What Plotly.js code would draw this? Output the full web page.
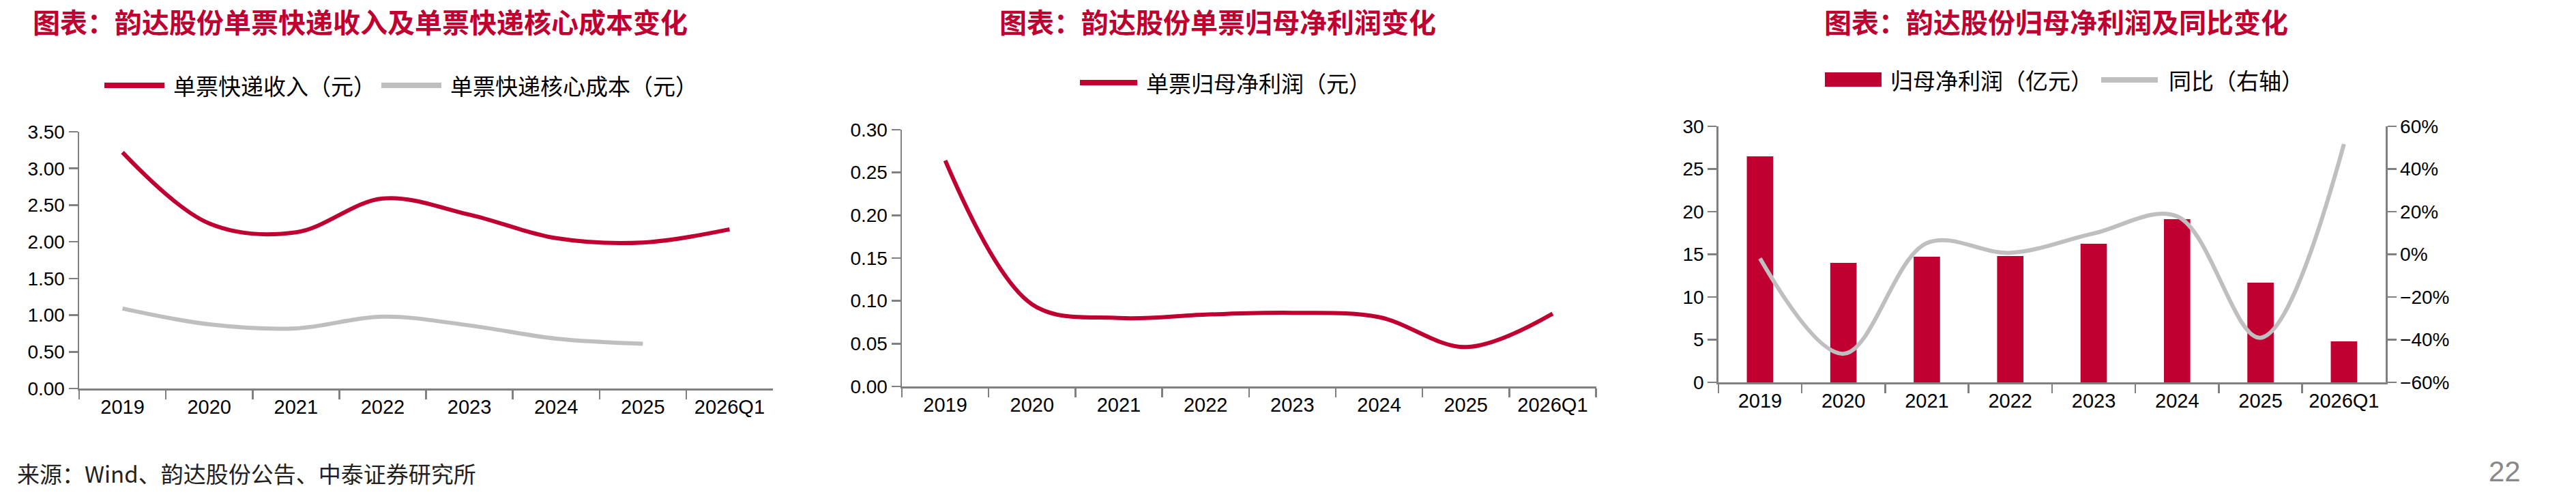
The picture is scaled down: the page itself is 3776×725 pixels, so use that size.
<!DOCTYPE html>
<html>
<head>
<meta charset="utf-8">
<script src="https://cdn.plot.ly/plotly-3.0.1.min.js"></script>
<style>html,body{margin:0;padding:0;background:#fff;}#chart{width:3776px;height:725px;}</style>
</head>
<body>
<div id="chart"></div>
<script>
// ---- data ----
const categories = ['2019', '2020', '2021', '2022', '2023', '2024', '2025', '2026Q1'];
const revenuePerParcel = [3.22, 2.25, 2.13, 2.59, 2.37, 2.05, 1.99, 2.17];
const coreCostPerParcel = [1.09, 0.875, 0.82, 0.98, 0.86, 0.68, 0.61, null];
const netProfitPerParcel = [0.264, 0.096, 0.080, 0.084, 0.086, 0.081, 0.046, 0.085];
const netProfit = [26.48, 14.0, 14.72, 14.8, 16.24, 19.12, 11.68, 4.8];
const netProfitYoY = [-0.019, -0.466, 0.053, 0.007, 0.098, 0.178, -0.391, 0.517];
const seriesNames = ['单票快递收入（元）', '单票快递核心成本（元）', '单票归母净利润（元）', '归母净利润（亿元）', '同比（右轴）'];
const chartTitles = ['图表：韵达股份单票快递收入及单票快递核心成本变化', '图表：韵达股份单票归母净利润变化', '图表：韵达股份归母净利润及同比变化'];
const sourceText = '来源：Wind、韵达股份公告、中泰证券研究所';
const pageNumber = '22';

// ---- style ----
const W = 3776, H = 725;
const RED = '#BF0031', GRAY = '#BFBFBF', AX = '#808080';
const CJK = '"Noto Sans CJK SC", "Noto Sans", sans-serif';
const NUM = '"Liberation Sans", Arial, sans-serif';
const X = p => p / W;
const Y = p => 1 - p / H;

function xax(x0, x1, anchor) {
  return {
    type: 'category', domain: [X(x0), X(x1)], range: [-0.5, 7.5], anchor: anchor,
    showline: true, linecolor: AX, linewidth: 2.5, ticks: 'outside', ticklen: 13, tickwidth: 2.5,
    tickcolor: AX, tickson: 'boundaries', showgrid: false, zeroline: false, fixedrange: true,
    tickfont: {family: NUM, size: 29, color: '#000'}
  };
}
function yax(yBottom, yTop, range, dtick, fmt, anchor, extra) {
  return Object.assign({
    domain: [Y(yBottom), Y(yTop)], range: range, dtick: dtick, tickformat: fmt, anchor: anchor,
    showline: true, linecolor: AX, linewidth: 2.5, ticks: 'outside', ticklen: 13, tickwidth: 2.5,
    tickcolor: AX, showgrid: false, zeroline: false, fixedrange: true,
    tickfont: {family: NUM, size: 28, color: '#000'}
  }, extra || {});
}

const traces = [
  {x: categories, y: revenuePerParcel, name: seriesNames[0], type: 'scatter', mode: 'lines',
   line: {color: RED, width: 6, shape: 'spline', smoothing: 1}, xaxis: 'x', yaxis: 'y'},
  {x: categories, y: coreCostPerParcel, name: seriesNames[1], type: 'scatter', mode: 'lines',
   line: {color: GRAY, width: 6, shape: 'spline', smoothing: 1}, xaxis: 'x', yaxis: 'y'},
  {x: categories, y: netProfitPerParcel, name: seriesNames[2], type: 'scatter', mode: 'lines',
   line: {color: RED, width: 6, shape: 'spline', smoothing: 1}, xaxis: 'x2', yaxis: 'y2'},
  {x: categories, y: netProfit, name: seriesNames[3], type: 'bar', marker: {color: RED},
   xaxis: 'x3', yaxis: 'y3'},
  {x: categories, y: netProfitYoY, name: seriesNames[4], type: 'scatter', mode: 'lines',
   line: {color: GRAY, width: 6, shape: 'spline', smoothing: 1}, xaxis: 'x3', yaxis: 'y4'}
];

const annotations = [];
function txt(x, y, text, size, color, anchor, bold, family) {
  annotations.push({xref: 'paper', yref: 'paper', x: X(x), y: Y(y), text: bold ? '<b>' + text + '</b>' : text,
    showarrow: false, xanchor: anchor, yanchor: 'middle',
    font: {family: family || CJK, size: size, color: color}});
}
// titles
txt(46, 31, chartTitles[0], 40, RED, 'left', true);
txt(1785, 31, chartTitles[1], 40, RED, 'center', true);
txt(3014, 31, chartTitles[2], 40, RED, 'center', true);
// legend texts
txt(252, 125, seriesNames[0], 33, '#000', 'left');
txt(658, 125, seriesNames[1], 33, '#000', 'left');
txt(1678, 121, seriesNames[2], 33, '#000', 'left');
txt(2769, 117, seriesNames[3], 33, '#000', 'left');
txt(3177, 117, seriesNames[4], 33, '#000', 'left');
// source + page number
txt(23, 693, sourceText, 33, '#222', 'left');
txt(3697, 690, pageNumber, 42, '#888', 'right', false, NUM);

const shapes = [
  {type: 'line', xref: 'paper', yref: 'paper', x0: X(153), x1: X(241), y0: Y(125), y1: Y(125), line: {color: RED, width: 8}},
  {type: 'line', xref: 'paper', yref: 'paper', x0: X(559), x1: X(647), y0: Y(125), y1: Y(125), line: {color: GRAY, width: 8}},
  {type: 'line', xref: 'paper', yref: 'paper', x0: X(1583), x1: X(1667), y0: Y(121), y1: Y(121), line: {color: RED, width: 8}},
  {type: 'rect', xref: 'paper', yref: 'paper', x0: X(2675), x1: X(2758), y0: Y(127), y1: Y(106), line: {width: 0}, fillcolor: RED},
  {type: 'line', xref: 'paper', yref: 'paper', x0: X(3080), x1: X(3163), y0: Y(117), y1: Y(117), line: {color: GRAY, width: 8}}
];

const layout = {
  width: W, height: H, margin: {l: 0, r: 0, t: 0, b: 0}, paper_bgcolor: '#fff', plot_bgcolor: 'rgba(0,0,0,0)',
  showlegend: false, bargap: 0.684,
  xaxis: xax(116, 1133, 'y'),
  yaxis: yax(569, 193, [0, 3.5], 0.5, '.2f', 'x'),
  xaxis2: xax(1322, 2339.5, 'y2'),
  yaxis2: yax(566, 190, [0, 0.30], 0.05, '.2f', 'x2'),
  xaxis3: xax(2518.75, 3497, 'y3'),
  yaxis3: yax(560, 185, [0, 30], 5, 'd', 'x3'),
  yaxis4: yax(560, 185, [-0.6, 0.6], 0.2, '.0%', 'x3', {overlaying: 'y3', side: 'right'}),
  annotations: annotations, shapes: shapes
};

Plotly.newPlot('chart', traces, layout, {staticPlot: true, displayModeBar: false});
</script>
</body>
</html>
